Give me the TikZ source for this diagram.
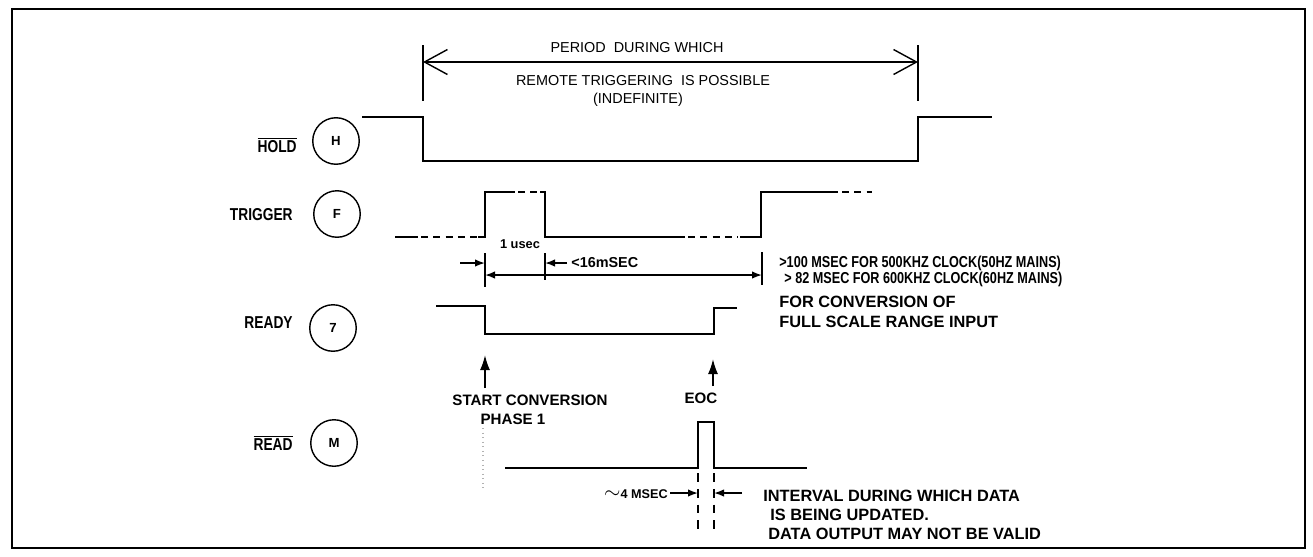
\documentclass[tikz,border=0pt]{standalone}
\usepackage{fontspec}
\setmainfont{Liberation Sans}
\newfontfamily\narrowfont[FakeStretch=0.8]{Liberation Sans}
\usepackage{tikz}
\usetikzlibrary{arrows.meta, positioning, calc}
\tikzset{
  wave/.style={line width=1pt},
  wavedash/.style={line width=1pt, dash pattern=on 4pt off 3pt},
  pin/.style={circle, draw, line width=0.8pt, minimum size=0.93cm, inner sep=0pt, font=\fontsize{7.5}{8}\selectfont\bfseries},
  signame/.style={anchor=east, inner sep=0pt, font=\narrowfont\fontsize{9.8}{11}\selectfont\bfseries},
  note/.style={inner sep=0pt, font=\fontsize{8.6}{10}\selectfont\bfseries},
  sidenote/.style={inner sep=0pt, anchor=west, font=\fontsize{9.3}{11}\selectfont\bfseries},
  clocknote/.style={inner sep=0pt, anchor=west, font=\narrowfont\fontsize{9}{10}\selectfont\bfseries},
  topnote/.style={inner sep=0pt, font=\fontsize{8.2}{10}\selectfont},
  dimtick/.style={line width=0.8pt},
  dimarr/.style={-{Latex[length=2mm, width=1.5mm]}, line width=0.9pt},
  evarr/.style={-{Latex[length=3mm, width=2mm]}, line width=1pt},
}

\begin{document}
\begin{tikzpicture}[x=0.2mm, y=-0.2mm]
  \useasboundingbox (0,0) rectangle (1313,556);
  \draw[line width=1.3pt] (12,9) rectangle (1305,548);

  % Signal names and pins
  \node[signame] (hold) at (297,145) {$\overline{\hbox{HOLD}}$};
  \node[pin] (pinH) at (336,141) {H};
  \node[signame] (trig) at (293,215) {TRIGGER};
  \node[pin] (pinF) at (337,214) {F};
  \node[signame] (ready) at (293,323) {READY};
  \node[pin] (pin7) at (333,328) {7};
  \node[signame] (read) at (293,443) {$\overline{\hbox{READ}}$};
  \node[pin] (pinM) at (334,443) {M};

  % Remote trigger period
  \coordinate (perL) at (423,62);
  \coordinate (perR) at (918,62);
  \draw[dimtick] (423,45) -- (423,101);
  \draw[dimtick] (918,45) -- (918,101);
  \draw[{Straight Barb[length=4.6mm, width=5mm]}-{Straight Barb[length=4.6mm, width=5mm]}, line width=0.8pt] (perL) -- (perR);
  \node[topnote] (per1) at (637,48) {PERIOD\ \ DURING WHICH};
  \node[topnote] (per2) at (643,81) {REMOTE TRIGGERING\ \ IS POSSIBLE};
  \node[topnote] (per3) at (638,100) {(INDEFINITE)};

  % HOLD
  \draw[wave] (362,117) -- (423,117) -- (423,161) -- (918,161) -- (918,117) -- (992,117);

  % TRIGGER
  \draw[wave] (395,237) -- (418,237);
  \draw[wavedash] (421,237) -- (478,237);
  \draw[wave] (478,237) -- (485,237) -- (485,192) -- (515,192);
  \draw[wavedash] (518,192) -- (542,192);
  \draw[wave] (540,192) -- (545,192) -- (545,237) -- (685,237);
  \draw[wavedash] (688,237) -- (738,237);
  \draw[wave] (740,237) -- (761,237) -- (761,192) -- (838,192);
  \draw[wavedash] (842,192) -- (872,192);

  % Trigger timing
  \draw[dimtick] (485,253) -- (485,287);
  \draw[dimtick] (545,253) -- (545,280);
  \draw[dimtick] (762,252) -- (762,285);
  \coordinate (usIn) at (460,263);
  \coordinate (usA) at (485,263);
  \coordinate (msIn) at (567,263);
  \coordinate (usB) at (545,263);
  \coordinate (convA) at (485,275);
  \coordinate (convB) at (762,275);
  \draw[dimarr] (usIn) -- (usA);
  \draw[dimarr] (msIn) -- (usB);
  \draw[dimarr, {Latex[length=2mm, width=1.5mm]}-{Latex[length=2mm, width=1.5mm]}] (convA) -- (convB);
  \node[inner sep=0pt, font=\fontsize{7.3}{8}\selectfont\bfseries] (usec) at (520,244) {1 usec};
  \node[inner sep=0pt, anchor=west, font=\fontsize{8.2}{9}\selectfont\bfseries] (msec) at (571,263) {<16mSEC};
  \node[clocknote] (clk1) at (779,263) {>100 MSEC FOR 500KHZ CLOCK(50HZ MAINS)};
  \node[clocknote] (clk2) at (784,279) {> 82 MSEC FOR 600KHZ CLOCK(60HZ MAINS)};
  \node[sidenote] (conv1) at (779,302) {FOR CONVERSION OF};
  \node[sidenote] (conv2) at (779,322) {FULL SCALE RANGE INPUT};

  % READY
  \draw[wave] (436,306) -- (485,306) -- (485,334) -- (714,334) -- (714,308) -- (737,308);
  \coordinate (scTail) at (485,388);
  \coordinate (scHead) at (485,355);
  \coordinate (eocTail) at (713,386);
  \coordinate (eocHead) at (713,359);
  \draw[evarr] (scTail) -- (scHead);
  \draw[evarr] (eocTail) -- (eocHead);
  \node[note] (start) at (530,400) {START CONVERSION};
  \node[note] (phase) at (513,419) {PHASE 1};
  \node[note] (eoc) at (701,398) {EOC};
  \draw[gray!60, dotted, line width=0.6pt] (483,428) -- (483,490);

  % READ
  \draw[wave] (505,468) -- (698,468) -- (698,422) -- (714,422) -- (714,468) -- (807,468);
  \draw[line width=0.9pt, dash pattern=on 5pt off 4pt] (698,473) -- (698,530);
  \draw[line width=0.9pt, dash pattern=on 5pt off 4pt] (714,473) -- (714,530);
  \coordinate (rdInL) at (670,493);
  \coordinate (rdA) at (698,493);
  \coordinate (rdInR) at (742,493);
  \coordinate (rdB) at (714,493);
  \draw[dimarr] (rdInL) -- (rdA);
  \draw[dimarr] (rdInR) -- (rdB);
  \node[inner sep=0pt, anchor=east, font=\fontsize{7.2}{8}\selectfont\bfseries] (fourms) at (668,494) {{\large$\sim$}4 MSEC};
  \node[sidenote] (upd1) at (763,496) {INTERVAL DURING WHICH DATA};
  \node[sidenote] (upd2) at (770,515) {IS BEING UPDATED.};
  \node[sidenote] (upd3) at (768,534) {DATA OUTPUT MAY NOT BE VALID};
\end{tikzpicture}
\end{document}
